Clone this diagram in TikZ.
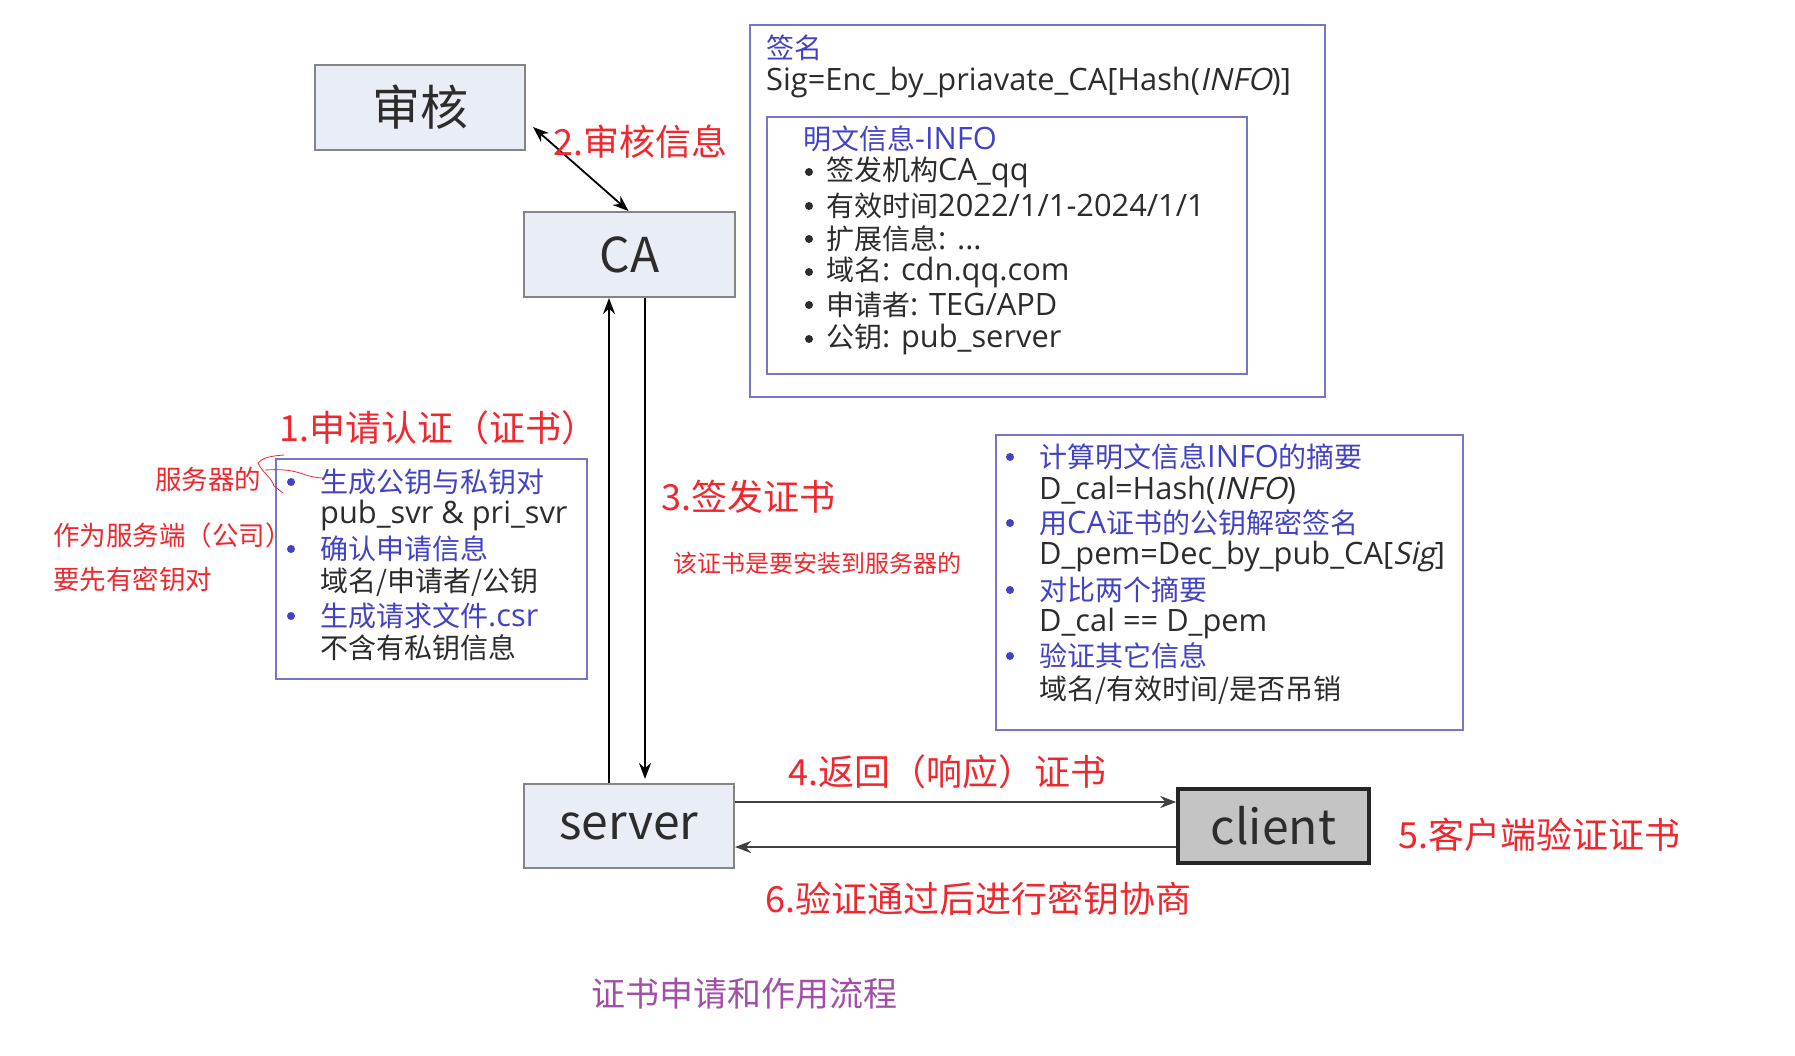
\documentclass[tikz,border=0pt]{standalone}
\usepackage{fontspec}
\setmainfont{Noto Sans CJK SC}
\newfontfamily\lat{Open Sans}[Scale=1.1]
\newfontfamily\latsl{Open Sans}[Scale=1.1,FakeSlant=0.22]
\usetikzlibrary{arrows.meta}
\definecolor{boxfill}{HTML}{E9EDF6}
\definecolor{boxline}{HTML}{858585}
\definecolor{listline}{HTML}{7676C8}
\definecolor{listblue}{HTML}{4242C6}
\definecolor{ink}{HTML}{2C2C2C}
\definecolor{notered}{HTML}{F0282E}
\definecolor{titlecol}{HTML}{A24EAA}
\definecolor{clientfill}{HTML}{C4C4C4}
\newcommand{\la}[1]{{\lat #1}}
\newcommand{\ls}[1]{{\latsl #1}}
\begin{document}
\begin{tikzpicture}[x=1pt,y=-1pt,
  entity/.style={draw=boxline, line width=2pt, fill=boxfill, text=ink,
    font=\fontsize{48}{50}\selectfont, inner sep=0pt},
  panel/.style={draw=listline, line width=2pt, inner sep=0pt},
  rednote/.style={text=notered, anchor=west, inner sep=0pt,
    font=\fontsize{36}{38}\selectfont},
  smallnote/.style={text=notered, anchor=west, inner sep=0pt,
    font=\fontsize{26.5}{28}\selectfont},
  txt/.style={anchor=west, inner sep=0pt, text=ink,
    font=\fontsize{28}{30}\selectfont},
  bluetxt/.style={txt, text=listblue},
  bluedot/.style={circle, fill=listblue, inner sep=0pt, minimum size=8pt},
  blackdot/.style={circle, fill=ink, inner sep=0pt, minimum size=8pt},
  arr/.style={draw=black, line width=1.8pt, -{Stealth[length=16pt,width=12pt]}},
  flow/.style={draw=black!75, line width=2.6pt, -{Stealth[length=16pt,width=12pt]}},
]
\useasboundingbox[fill=white] (0,0) rectangle (1795,1055);

% ---- main entities ----
\node[entity, minimum width=210pt, minimum height=85pt] (shenhe) at (420,107.5) {审核};
\node[entity, minimum width=211pt, minimum height=85pt] (ca) at (629.5,254.5) {CA};
\node[entity, minimum width=210pt, minimum height=84pt] (server) at (629,826) {server};
\node[draw=black!85, line width=3.5pt, fill=clientfill, text=ink, inner sep=0pt,
  font=\fontsize{48}{50}\selectfont, minimum width=191pt, minimum height=74pt]
  (client) at (1273.5,826) {client};

% ---- panels ----
\node[panel, minimum width=575pt, minimum height=372pt] (sig) at (1037.5,211) {};
\node[panel, minimum width=480pt, minimum height=257pt] (info) at (1007,245.5) {};
\node[panel, minimum width=311pt, minimum height=220pt] (req) at (431.5,569) {};
\node[panel, minimum width=467pt, minimum height=295pt] (check) at (1229.5,582.5) {};

% ---- signature panel ----
\node[bluetxt] (sigtitle) at (766,48) {签名};
\node[txt] (sigformula) at (766,82) {\la{Sig=Enc\_by\_priavate\_CA[Hash(}\ls{INFO}\la{)]}};
\node[bluetxt] (infotitle) at (803,139) {明文信息\la{-INFO}};
\node[blackdot] (ib1) at (809,172) {};
\node[txt] (it1) at (826,172) {签发机构\la{CA\_qq}};
\node[blackdot] (ib2) at (809,206) {};
\node[txt] (it2) at (826,206) {有效时间\la{2022/1/1-2024/1/1}};
\node[blackdot] (ib3) at (809,239) {};
\node[txt] (it3) at (826,239) {扩展信息\la{: ...}};
\node[blackdot] (ib4) at (809,272) {};
\node[txt] (it4) at (826,272) {域名\la{: cdn.qq.com}};
\node[blackdot] (ib5) at (809,305) {};
\node[txt] (it5) at (826,305) {申请者\la{: TEG/APD}};
\node[blackdot] (ib6) at (809,339) {};
\node[txt] (it6) at (826,339) {公钥\la{: pub\_server}};

% ---- request panel ----
\foreach \y/\t [count=\i] in {482/生成公钥与私钥对, 549/确认申请信息, 616/生成请求文件\la{.csr}} {
  \node[bluedot] (rb\i) at (291,\y) {};
  \node[bluetxt] (rt\i) at (320,\y) {\t};
}
\node[txt] (rd1) at (320,515) {\la{pub\_svr \& pri\_svr}};
\node[txt] (rd2) at (320,582) {域名/申请者/公钥};
\node[txt] (rd3) at (320,648) {不含有私钥信息};

% ---- verification panel ----
\foreach \y/\t [count=\i] in {457/计算明文信息\la{INFO}的摘要, 523/用\la{CA}证书的公钥解密签名,
    590/对比两个摘要, 656/验证其它信息} {
  \node[bluedot] (cb\i) at (1010,\y) {};
  \node[bluetxt] (ct\i) at (1039,\y) {\t};
}
\node[txt] (cd1) at (1039,490) {\la{D\_cal=Hash(}\ls{INFO}\la{)}};
\node[txt] (cd2) at (1039,556) {\la{D\_pem=Dec\_by\_pub\_CA[}\ls{Sig}\la{]}};
\node[txt] (cd3) at (1039,623) {\la{D\_cal == D\_pem}};
\node[txt] (cd4) at (1039,690) {域名/有效时间/是否吊销};

% ---- connectors ----
\draw[arr, {Stealth[length=16pt,width=12pt]}-{Stealth[length=16pt,width=12pt]}]
  ([xshift=7pt,yshift=-19.5pt]shenhe.east) -- ([xshift=-1pt]ca.north);
\coordinate (upx) at (609,0);
\coordinate (dnx) at (645,0);
\draw[arr] (server.north -| upx) -- (ca.south -| upx);
\draw[arr, shorten >=4pt] (ca.south -| dnx) -- (server.north -| dnx);
\coordinate (goy) at (0,802);
\coordinate (backy) at (0,847);
\draw[flow] (server.east |- goy) -- (client.west |- goy);
\draw[flow] (client.west |- backy) -- (server.east |- backy);

% ---- step labels ----
\node[rednote] (s1) at (279,428) {1.申请认证（证书）};
\node[rednote] (s2) at (553,142) {2.审核信息};
\node[rednote] (s3) at (661,497) {3.签发证书};
\node[rednote] (s4) at (788,772) {4.返回（响应）证书};
\node[rednote] (s5) at (1398,835) {5.客户端验证证书};
\node[rednote] (s6) at (765,899) {6.验证通过后进行密钥协商};

% ---- handwritten notes ----
\node[smallnote] (n1) at (155,479) {服务器的};
\node[smallnote] (n2) at (53,535) {作为服务端（公司）};
\node[smallnote] (n3) at (53,579) {要先有密钥对};
\node[smallnote, font=\fontsize{24}{26}\selectfont] (n4) at (673,563) {该证书是要安装到服务器的};
\draw[notered, line width=0.8pt] (284,455) .. controls (270,456) and (262,458) .. (258,463)
  .. controls (262,472) and (272,478) .. (274,486) -- (283,493);
\draw[notered, line width=0.8pt] (265,470) .. controls (280,469) and (290,470) .. (300,473)
  .. controls (308,476) and (316,478) .. (325,478);

% ---- caption ----
\node[anchor=west, inner sep=0pt, text=titlecol, font=\fontsize{34}{36}\selectfont]
  (caption) at (591,994) {证书申请和作用流程};
\end{tikzpicture}
\end{document}
